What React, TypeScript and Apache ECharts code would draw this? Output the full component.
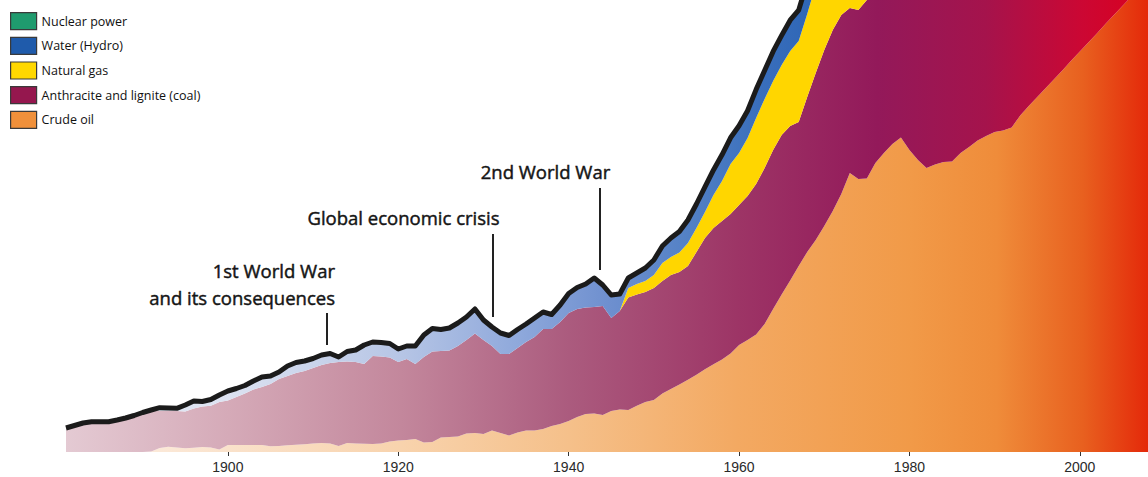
import React, { useEffect, useRef } from "react";
import * as echarts from "echarts";

// Years 1881..2008
const years = [
  1881, 1882, 1883, 1884, 1885, 1886, 1887, 1888, 1889, 1890,
  1891, 1892, 1893, 1894, 1895, 1896, 1897, 1898, 1899, 1900,
  1901, 1902, 1903, 1904, 1905, 1906, 1907, 1908, 1909, 1910,
  1911, 1912, 1913, 1914, 1915, 1916, 1917, 1918, 1919, 1920,
  1921, 1922, 1923, 1924, 1925, 1926, 1927, 1928, 1929, 1930,
  1931, 1932, 1933, 1934, 1935, 1936, 1937, 1938, 1939, 1940,
  1941, 1942, 1943, 1944, 1945, 1946, 1947, 1948, 1949, 1950,
  1951, 1952, 1953, 1954, 1955, 1956, 1957, 1958, 1959, 1960,
  1961, 1962, 1963, 1964, 1965, 1966, 1967, 1968, 1969, 1970,
  1971, 1972, 1973, 1974, 1975, 1976, 1977, 1978, 1979, 1980,
  1981, 1982, 1983, 1984, 1985, 1986, 1987, 1988, 1989, 1990,
  1991, 1992, 1993, 1994, 1995, 1996, 1997, 1998, 1999, 2000,
  2001, 2002, 2003, 2004, 2005, 2006, 2007, 2008,
];

// Primary energy by source (approx. million tonnes oil equivalent)
const crudeOil = [
  0, 0, 0, 0, 0, 0, 0, 0, 0, 0,
  5, 40, 52, 45, 38, 42, 50, 45, 25, 70,
  70, 70, 70, 70, 57, 60, 67, 72, 78, 85,
  90, 85, 60, 90, 85, 83, 80, 85, 105, 115,
  120, 130, 95, 100, 145, 150, 155, 185, 190, 180,
  215, 190, 165, 195, 215, 215, 230, 260, 280, 310,
  350, 380, 385, 370, 410, 425, 420, 462, 500, 520,
  585, 630, 675, 723, 772, 827, 878, 926, 985, 1070,
  1120, 1174, 1280, 1430, 1575, 1715, 1860, 2000, 2120, 2260,
  2410, 2580, 2790, 2730, 2735, 2890, 2990, 3080, 3145, 3020,
  2920, 2840, 2875, 2900, 2905, 2990, 3050, 3115, 3160, 3200,
  3215, 3245, 3365, 3460, 3550, 3640, 3730, 3820, 3915, 4005,
  4095, 4185, 4280, 4370, 4460, 4550, 4645, 4735,
];

const coal = [
  240, 265, 290, 303, 303, 303, 320, 340, 365, 395,
  405, 370, 358, 365, 367, 393, 405, 418, 475, 445,
  480, 515, 555, 580, 623, 670, 693, 718, 732, 755,
  780, 805, 840, 815, 815, 797, 880, 870, 840, 785,
  810, 750, 855, 905, 865, 865, 905, 935, 995, 940,
  845, 790, 815, 845, 885, 935, 1000, 970, 1020, 1080,
  1080, 1065, 1065, 1090, 930, 985, 1125, 1113, 1100, 1120,
  1125, 1140, 1125, 1137, 1228, 1313, 1362, 1384, 1395, 1400,
  1440, 1506, 1560, 1590, 1595, 1545, 1440, 1550, 1670, 1760,
  1810, 1790, 1650, 1690, 1785, 1820, 1860, 1890, 1950, 1990,
  2000, 2030, 2080, 2150, 2220, 2260, 2310, 2350, 2370, 2350,
  2330, 2300, 2290, 2300, 2330, 2370, 2380, 2350, 2370, 2420,
  2450, 2520, 2700, 2900, 3080, 3230, 3380, 3480,
];

const naturalGas = [
  0, 0, 0, 0, 0, 0, 0, 0, 0, 0,
  0, 0, 0, 0, 0, 0, 0, 0, 0, 0,
  0, 0, 0, 0, 0, 0, 0, 0, 0, 0,
  0, 0, 0, 0, 0, 0, 0, 0, 0, 0,
  0, 0, 0, 0, 0, 0, 0, 0, 0, 0,
  0, 0, 0, 0, 0, 0, 0, 0, 0, 0,
  0, 0, 0, 0, 0, 0, 95, 105, 110, 130,
  180, 180, 195, 230, 240, 260, 330, 400, 500, 520,
  580, 660, 690, 690, 700, 750, 810, 830, 880, 930,
  980, 1020, 1060, 1080, 1090, 1140, 1170, 1210, 1260, 1270,
  1290, 1300, 1320, 1400, 1440, 1460, 1530, 1590, 1650, 1690,
  1720, 1730, 1760, 1770, 1810, 1880, 1870, 1900, 1950, 2010,
  2040, 2090, 2140, 2210, 2260, 2310, 2380, 2450,
];

const hydro = [
  0, 0, 0, 0, 0, 0, 0, 0, 0, 0,
  10, 33, 30, 27, 65, 75, 50, 62, 70, 95,
  85, 80, 85, 100, 80, 70, 100, 105, 100, 95,
  100, 95, 50, 100, 120, 190, 140, 140, 140, 130,
  130, 180, 220, 230, 215, 225, 230, 230, 245, 200,
  190, 210, 185, 185, 180, 190, 170, 145, 170, 195,
  215, 235, 290, 210, 230, 170, 100, 110, 130, 150,
  170, 190, 210, 230, 240, 250, 250, 260, 260, 270,
  270, 280, 280, 290, 290, 300, 300, 310, 320, 330,
  340, 350, 360, 380, 390, 400, 410, 430, 440, 450,
  460, 470, 490, 500, 510, 520, 530, 540, 550, 560,
  570, 575, 595, 600, 620, 630, 640, 645, 650, 660,
  655, 665, 670, 700, 720, 740, 750, 770,
];

const nuclear = [
  0, 0, 0, 0, 0, 0, 0, 0, 0, 0,
  0, 0, 0, 0, 0, 0, 0, 0, 0, 0,
  0, 0, 0, 0, 0, 0, 0, 0, 0, 0,
  0, 0, 0, 0, 0, 0, 0, 0, 0, 0,
  0, 0, 0, 0, 0, 0, 0, 0, 0, 0,
  0, 0, 0, 0, 0, 0, 0, 0, 0, 0,
  0, 0, 0, 0, 0, 0, 0, 0, 0, 0,
  0, 0, 0, 0, 0, 1, 1, 2, 2, 2,
  3, 4, 5, 6, 6, 8, 9, 11, 13, 18,
  25, 35, 45, 60, 85, 100, 120, 135, 145, 160,
  190, 210, 240, 285, 335, 360, 385, 410, 425, 455,
  475, 480, 495, 505, 525, 545, 545, 555, 575, 585,
  600, 610, 600, 625, 627, 635, 622, 620,
];

const tickYears = [1900, 1920, 1940, 1960, 1980, 2000];

const legendNames = [
  "Nuclear power",
  "Water (Hydro)",
  "Natural gas",
  "Anthracite and lignite (coal)",
  "Crude oil",
];
const legendColors = ["#1f9b6e", "#1f5bab", "#ffd800", "#95174e", "#f0903a"];

const grad = (stops: [number, string][]) =>
  new echarts.graphic.LinearGradient(
    0, 0, 1, 0,
    stops.map(([offset, color]) => ({ offset, color }))
  );

export default function App() {
  const ref = useRef<HTMLDivElement>(null);

  useEffect(() => {
    if (!ref.current) return;
    const chart = echarts.init(ref.current, undefined, { renderer: "svg" });

    const mk = (name: string, values: number[], area: any, extra: any = {}) => ({
      name,
      type: "line",
      stack: "energy",
      symbol: "none",
      showSymbol: false,
      silent: true,
      clip: true,
      data: values,
      lineStyle: { width: 0, opacity: 0 },
      areaStyle: { color: area, opacity: 1 },
      emphasis: { disabled: true },
      ...extra,
    });

    const oilGrad = grad([
      [0, "#fdf1e8"], [0.15, "#fae2cb"], [0.31, "#f8d3ad"], [0.465, "#f5c08a"],
      [0.62, "#f3a962"], [0.78, "#f19a48"], [0.86, "#ef8c3a"], [0.94, "#e8601f"], [1, "#e4290a"],
    ]);
    const coalGrad = grad([
      [0, "#e4cad3"], [0.15, "#d5aab8"], [0.31, "#c3879c"], [0.465, "#ab5b7e"],
      [0.62, "#9d3566"], [0.75, "#93195a"], [0.85, "#a5134c"], [0.94, "#cc0733"], [1, "#d9001e"],
    ]);
    const hydroGrad = grad([
      [0, "#e6eaf5"], [0.15, "#dce2f1"], [0.31, "#b6c5e5"], [0.42, "#8ea8db"],
      [0.5, "#6f90cf"], [0.57, "#5582c6"], [0.64, "#3a6fbc"], [0.7, "#2c64b5"], [1, "#2a62b3"],
    ]);

    const textStyle = {
      fill: "#151515",
      stroke: "#151515",
      lineWidth: 0.45,
      fontSize: 18.5,
      fontFamily: "Open Sans",
    };
    const isTick = (_i: number, v: string) => tickYears.indexOf(Number(v)) >= 0;

    chart.setOption({
      animation: false,
      grid: { left: 66, right: -2, top: 0, bottom: 25 },
      xAxis: {
        type: "category",
        data: years.map(String),
        boundaryGap: false,
        axisLine: { show: false },
        splitLine: { show: false },
        axisTick: { show: true, length: 4, lineStyle: { color: "#333", width: 1 }, interval: isTick, alignWithLabel: true },
        axisLabel: {
          interval: isTick,
          margin: 8,
          fontFamily: "Liberation Sans",
          fontSize: 14,
          color: "#2a2a2a",
        },
      },
      yAxis: { type: "value", min: 0, max: 4520, show: false },
      legend: {
        orient: "vertical",
        left: 10,
        top: 12,
        padding: 0,
        itemWidth: 26,
        itemHeight: 17,
        itemGap: 6.5,
        icon: "rect",
        selectedMode: false,
        textStyle: { fontFamily: "Open Sans", fontSize: 12.5, color: "#111" },
        data: legendNames.map((n, i) => ({
          name: n,
          itemStyle: { color: legendColors[i], borderColor: "#3a3a3a", borderWidth: 1.2 },
        })),
      },
      series: [
        mk("Crude oil", crudeOil, oilGrad),
        mk("Anthracite and lignite (coal)", coal, coalGrad),
        mk("Natural gas", naturalGas, "#ffd600"),
        mk("Water (Hydro)", hydro, hydroGrad),
        mk("Nuclear power", nuclear, "#1f9b6e", {
          lineStyle: { width: 5, color: "#1b1b1b", join: "round", cap: "butt" },
          z: 3,
        }),
      ],
      graphic: [
        { type: "text", x: 335, y: 270, z: 100, style: { ...textStyle, text: "1st World War", align: "right", verticalAlign: "middle" } },
        { type: "text", x: 335, y: 297, z: 100, style: { ...textStyle, text: "and its consequences", align: "right", verticalAlign: "middle" } },
        { type: "line", z: 100, shape: { x1: 327, y1: 313, x2: 327, y2: 345 }, style: { stroke: "#222", lineWidth: 2 } },
        { type: "text", x: 403.5, y: 217, z: 100, style: { ...textStyle, text: "Global economic crisis", align: "center", verticalAlign: "middle" } },
        { type: "line", z: 100, shape: { x1: 493, y1: 234, x2: 493, y2: 317 }, style: { stroke: "#222", lineWidth: 2 } },
        { type: "text", x: 545.5, y: 171, z: 100, style: { ...textStyle, text: "2nd World War", align: "center", verticalAlign: "middle" } },
        { type: "line", z: 100, shape: { x1: 600, y1: 188, x2: 600, y2: 270 }, style: { stroke: "#222", lineWidth: 2 } },
      ],
    });

    return () => chart.dispose();
  }, []);

  return (
    <div
      ref={ref}
      style={{ position: "fixed", left: 0, top: 0, width: 1148, height: 477, background: "#fff" }}
    />
  );
}
